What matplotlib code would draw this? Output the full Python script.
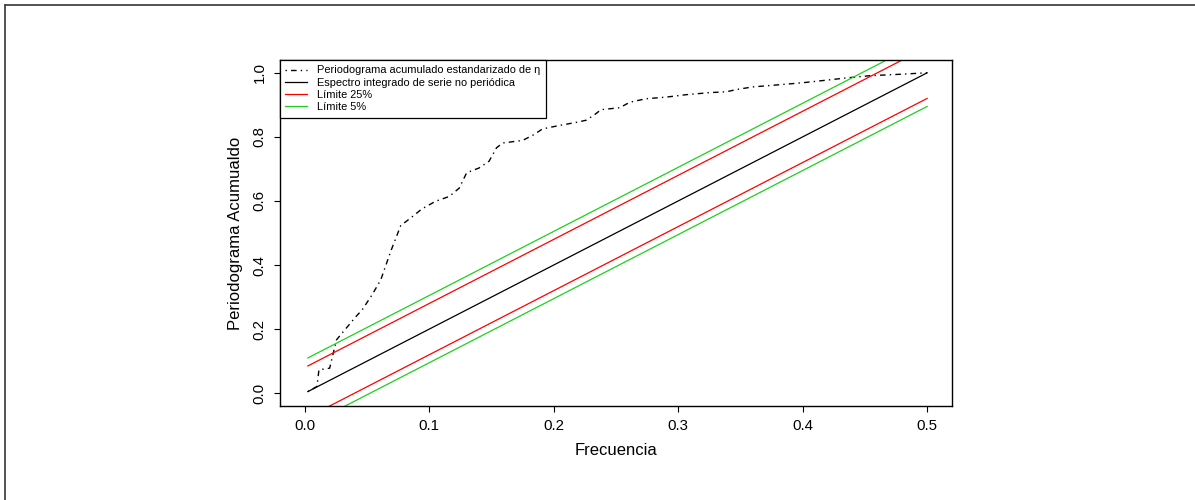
import matplotlib
matplotlib.use('Agg')
import matplotlib.pyplot as plt
from matplotlib.lines import Line2D

plt.rcParams['font.family'] = ['Liberation Sans', 'DejaVu Sans']

# periodograma acumulado estandarizado
frecuencia = [0.0024, 0.0097, 0.0113, 0.0199, 0.0228, 0.0255, 0.030, 0.041,
              0.046, 0.054, 0.061, 0.069, 0.077, 0.086, 0.094, 0.105, 0.116,
              0.124, 0.130, 0.140, 0.148, 0.154, 0.159, 0.175, 0.184, 0.191,
              0.205, 0.219, 0.226, 0.233, 0.238, 0.253, 0.261, 0.274, 0.290,
              0.307, 0.325, 0.339, 0.347, 0.360, 0.382, 0.400, 0.419, 0.435,
              0.454, 0.476, 0.500]
per_acum = [0.005, 0.021, 0.073, 0.078, 0.125, 0.167, 0.188, 0.239,
            0.260, 0.307, 0.354, 0.443, 0.523, 0.550, 0.575, 0.599, 0.614,
            0.640, 0.688, 0.703, 0.724, 0.766, 0.781, 0.789, 0.807, 0.825,
            0.836, 0.846, 0.852, 0.870, 0.885, 0.891, 0.908, 0.919, 0.924,
            0.932, 0.938, 0.941, 0.948, 0.956, 0.963, 0.969, 0.977, 0.984,
            0.991, 0.995, 1.000]

# espectro integrado de serie no periodica
frec_recta = [0.0024, 0.5]
espectro = [0.005, 1.0]
limite_25 = 0.08
limite_5 = 0.105

verde = '#1ed01e'

fig = plt.figure(figsize=(11.95, 5), dpi=100)
ax = fig.add_axes([280 / 1195, 1 - 406 / 500, 672 / 1195, 346 / 500])

ax.plot(frecuencia, per_acum, color='black', lw=1.0, dashes=(1, 3, 4, 3))
ax.plot(frec_recta, espectro, color='black', lw=0.9)
for off, col in [(limite_25, 'red'), (limite_5, verde)]:
    ax.plot(frec_recta, [v + off for v in espectro], color=col, lw=0.9)
    ax.plot(frec_recta, [v - off for v in espectro], color=col, lw=0.9)

ax.set_xlim(-0.02, 0.52)
ax.set_ylim(-0.04, 1.04)
ax.set_xticks([0.0, 0.1, 0.2, 0.3, 0.4, 0.5])
ax.set_yticks([0.0, 0.2, 0.4, 0.6, 0.8, 1.0])
ax.set_xticklabels(['0.0', '0.1', '0.2', '0.3', '0.4', '0.5'])
ax.set_yticklabels(['0.0', '0.2', '0.4', '0.6', '0.8', '1.0'], rotation=90, va='center')
ax.tick_params(direction='out', length=4.5, width=0.8, labelsize=10.8, pad=5)
for s in ax.spines.values():
    s.set_linewidth(1.0)
ax.set_xlabel('Frecuencia', fontsize=12, labelpad=7)
ax.set_ylabel('Periodograma Acumualdo', fontsize=12, labelpad=7)

handles = [Line2D([], [], color='black', lw=1.0, dashes=(1, 3, 4, 3)),
           Line2D([], [], color='black', lw=0.9),
           Line2D([], [], color='red', lw=0.9),
           Line2D([], [], color=verde, lw=0.9)]
labels = ['Periodograma acumulado estandarizado de \u03b7',
          'Espectro integrado de serie no peri\u00f3dica',
          'L\u00edmite 25%', 'L\u00edmite 5%']
leg = ax.legend(handles, labels, loc='upper left', bbox_to_anchor=(0, 1),
                borderaxespad=0, fontsize=7.9, fancybox=False, framealpha=1,
                edgecolor='black', handlelength=2.0, handletextpad=0.9,
                labelspacing=0.2, borderpad=0.5)
leg.get_frame().set_linewidth(0.9)

# marco exterior
fig.add_artist(Line2D([4.5 / 1195, 4.5 / 1195], [0, 1 - 4.5 / 500], color='#444444', lw=1.3))
fig.add_artist(Line2D([4.5 / 1195, 1], [1 - 4.5 / 500, 1 - 4.5 / 500], color='#444444', lw=1.3))

fig.savefig('out.png', dpi=100)
